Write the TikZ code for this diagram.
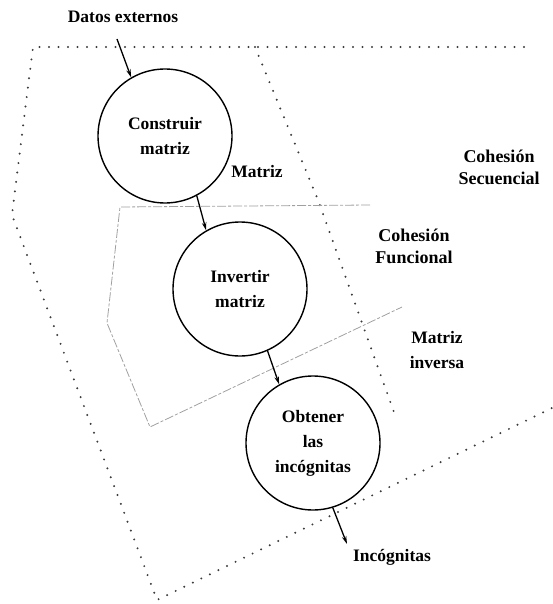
\documentclass[tikz,border=0pt]{standalone}
\usepackage{fontspec}
\setmainfont{Liberation Serif}
\usetikzlibrary{arrows.meta, positioning}
\definecolor{dotgray}{RGB}{60,60,60}
\definecolor{linegray}{RGB}{160,160,160}

\begin{document}
\begin{tikzpicture}[
    x=1pt, y=-1pt,
    proc/.style={circle, draw, line width=1.4pt, minimum size=134pt, inner sep=0pt, align=center, font=\fontsize{17.5}{25}\selectfont\bfseries},
    lbl/.style={font=\fontsize{17.5}{25}\selectfont\bfseries, align=center, inner sep=1pt},
    cohlbl/.style={font=\fontsize{18}{22}\selectfont\bfseries, align=center, inner sep=1pt},
    flow/.style={-{Stealth[length=8pt, width=4.5pt]}, line width=1.3pt},
    seqline/.style={dotgray, line width=2.2pt, line cap=round, dash pattern=on 0pt off 9.5pt},
    funline/.style={linegray, line width=0.8pt, dash pattern=on 9pt off 2pt on 3pt off 2pt}
]
\useasboundingbox (0,0) rectangle (552,604);

% Cohesion secuencial (dotted)
\draw[seqline] (524,47) -- (33,47) -- (12,215) -- (157,600) -- (552,408);
\draw[seqline] (255,47) -- (318,200) -- (395,415);

% Cohesion funcional (light dashed)
\draw[funline] (370,205) -- (120,207) -- (107,323) -- (150,427) -- (402,307);

% Processes
\node[proc] (construir) at (165,136) {Construir\\matriz};
\node[proc] (invertir) at (240,289) {Invertir\\matriz};
\node[proc] (obtener) at (313,443) {Obtener\\las\\incógnitas};

% Data labels
\node[lbl] (datos) at (123,17) {Datos externos};
\node[lbl] (matriz) at (257,172) {Matriz};
\node[lbl] (inversa) at (437,350) {Matriz\\inversa};
\node[lbl] (incog) at (392,557) {Incógnitas};

% Cohesion labels
\node[cohlbl] (seq) at (499,167) {Cohesión\\Secuencial};
\node[cohlbl] (fun) at (414,246) {Cohesión\\Funcional};

% Free ends
\coordinate (intail) at (117,39);
\coordinate (outtip) at (347,544);

% Flows
\draw[flow] (intail) -- (construir.120);
\draw[flow] (construir.-62) -- (invertir.120);
\draw[flow] (invertir.-66) -- (obtener.120);
\draw[flow] (obtener.-73) -- (outtip);

\end{tikzpicture}
\end{document}
